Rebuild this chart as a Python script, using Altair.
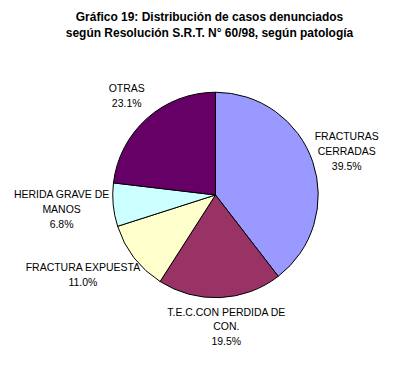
import altair as alt
import pandas as pd

categories = ["FRACTURAS\nCERRADAS", "T.E.C.CON PERDIDA DE\nCON.", "FRACTURA EXPUESTA",
              "HERIDA GRAVE DE\nMANOS", "OTRAS"]
values = [39.5, 19.5, 11.0, 6.8, 23.1]
colors = ["#9999FF", "#993366", "#FFFFCC", "#CCFFFF", "#660066"]

total = sum(values)
df = pd.DataFrame({
    "cat": categories,
    "value": values,
    "order": list(range(len(categories))),
    "text": [f"{c}\n{v:.1f}%" for c, v in zip(categories, values)],
})

theta_scale = alt.Scale(domain=[0, total], zero=True, nice=False)

base = alt.Chart(df)

arcs = base.mark_arc(outerRadius=103, stroke="black", strokeWidth=1).encode(
    theta=alt.Theta("value:Q", stack=True, scale=theta_scale),
    order=alt.Order("order:Q"),
    color=alt.Color("cat:N", scale=alt.Scale(domain=categories, range=colors), legend=None),
)

LH = 15
txt_props = dict(fontSize=10.5, font="Liberation Sans", lineBreak="\n", lineHeight=LH,
                 align="center", baseline="middle", color="black")

text_base = base.transform_window(
    cum="sum(value)", sort=[alt.SortField("order")]
).transform_calculate(mid="datum.cum - datum.value / 2")

# label placement style: (radius, extra dx, extra dy)
label_style = [(139, 0, 2), (133, 5, 0), (150, -14, -11), (155, 0, 0), (134, 0, 1)]

layers = [arcs]
for i, cat in enumerate(categories):
    r, ddx, ddy = label_style[i]
    n_lines = cat.count("\n") + 2
    layers.append(
        text_base.transform_filter(alt.datum.order == i)
        .mark_text(radius=r, dx=ddx, dy=ddy - (n_lines - 1) * LH / 2, **txt_props)
        .encode(theta=alt.Theta("mid:Q", scale=theta_scale), text="text:N")
    )

chart = alt.layer(*layers).properties(
    width=384, height=274,
    padding={"left": 16, "top": 50, "right": 0, "bottom": 30},
    autosize=alt.AutoSizeParams(type="none"),
    title=alt.TitleParams(
        ["Gráfico 19: Distribución de casos denunciados",
         "según Resolución S.R.T. N° 60/98, según patología"],
        font="Liberation Sans", fontSize=12, fontWeight="bold", anchor="middle",
        offset=18, lineHeight=16, dx=-6, color="black",
    ),
).configure_view(stroke=None)

chart.save("out.html", embed_options={"renderer": "svg", "actions": False})
